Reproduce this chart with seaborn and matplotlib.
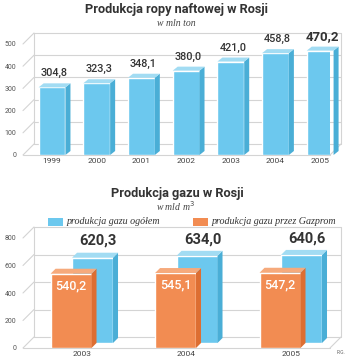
import pandas as pd
import matplotlib
matplotlib.use("Agg")
import matplotlib.pyplot as plt
import seaborn as sns
from matplotlib.patches import Polygon, Rectangle

# data
oil_years = ["1999", "2000", "2001", "2002", "2003", "2004", "2005"]
oil_values = [304.8, 323.3, 348.1, 380.0, 421.0, 458.8, 470.2]
oil_ticks = [0, 100, 200, 300, 400, 500]

gas_years = ["2003", "2004", "2005"]
gas_total = [620.3, 634.0, 640.6]
gas_gazprom = [540.2, 545.1, 547.2]
gas_ticks = [0, 200, 400, 600, 800]
gas_series = ["produkcja gazu ogółem", "produkcja gazu przez Gazprom"]

BLUE, BLUE_SIDE, BLUE_TOP = "#6cc8ee", "#4aaed6", "#a2dcf3"
ORANGE, ORANGE_SIDE, ORANGE_TOP = "#f28c52", "#dd6e32", "#f6aa7c"
WALL = "#d4d4d4"
DARK = "#333333"
SANS = ["Roboto", "DejaVu Sans"]
SERIF = ["Liberation Serif", "DejaVu Serif"]

sns.set_theme(style="white")
plt.rcParams["font.family"] = SANS

W, H = 350, 359
fig = plt.figure(figsize=(W / 100, H / 100), dpi=100)


def px_scale(ax):
    # pixels per data unit on both axes
    pos = ax.get_position()
    x0, x1 = ax.get_xlim()
    y0, y1 = ax.get_ylim()
    return pos.width * W / (x1 - x0), pos.height * H / (y1 - y0)


def draw_walls(ax, ticks, depth=11):
    sx, sy = px_scale(ax)
    dx, dy = depth / sx, depth / sy
    x0, x1 = ax.get_xlim()
    top = ax.get_ylim()[1]
    kw = dict(color=WALL, lw=0.8, clip_on=False, zorder=0.5)
    for t in ticks:
        ax.plot([x0 + dx, x1 + dx], [t + dy, t + dy], **kw)
        ax.plot([x0, x0 + dx], [t, t + dy], **kw)
    ax.plot([x0 + dx, x0 + dx], [dy, top + dy], **kw)
    ax.plot([x1 + dx, x1 + dx], [dy, top + dy], **kw)
    ax.plot([x0, x1], [0, 0], **kw)
    ax.plot([x1, x1 + dx], [0, dy], **kw)


def make_3d(ax, patch, side, topc, ddx=5, ddy=5):
    sx, sy = px_scale(ax)
    dx, dy = ddx / sx, ddy / sy
    x, y = patch.get_x(), patch.get_y()
    w, h = patch.get_width(), patch.get_height()
    z = patch.get_zorder()
    ax.add_patch(Polygon([(x + w, y), (x + w + dx, y + dy), (x + w + dx, y + h + dy), (x + w, y + h)],
                         closed=True, fc=side, ec="none", zorder=z, clip_on=False))
    ax.add_patch(Polygon([(x, y + h), (x + dx, y + h + dy), (x + w + dx, y + h + dy), (x + w, y + h)],
                         closed=True, fc=topc, ec="none", zorder=z, clip_on=False))


def style_axes(ax, ticks):
    for s in ax.spines.values():
        s.set_visible(False)
    ax.set_yticks(ticks)
    ax.set_yticklabels([str(t) for t in ticks], fontsize=5, color="#555555")
    ax.tick_params(axis="y", length=0, pad=5)
    ax.tick_params(axis="x", length=0, pad=2, labelsize=6, labelcolor="#444444")
    ax.set_xlabel("")
    ax.set_ylabel("")
    ax.grid(False)
    ax.set_facecolor("none")


# ---------------- top chart: oil ----------------
ax1 = fig.add_axes([23 / W, 1 - 155 / H, 307 / W, 111 / H])
oil_df = pd.DataFrame({"rok": oil_years, "wartosc": oil_values})
sns.barplot(data=oil_df, x="rok", y="wartosc", color=BLUE, saturation=1,
            width=0.6, errorbar=None, ax=ax1, zorder=2)
ax1.set_xlim(-0.65, 6.22)
ax1.set_ylim(0, 500)
style_axes(ax1, oil_ticks)
draw_walls(ax1, oil_ticks)
oil_bars = list(ax1.patches)[:len(oil_values)]
for p in oil_bars:
    make_3d(ax1, p, BLUE_SIDE, BLUE_TOP, 5, 4)
for i, (p, v) in enumerate(zip(oil_bars, oil_values)):
    last = i == len(oil_values) - 1
    ax1.annotate(f"{v:.1f}".replace(".", ","), (p.get_x() + p.get_width() / 2, v),
                 xytext=(1.5, 6.5 if not last else 5.5), textcoords="offset points",
                 ha="center", va="bottom", color=DARK,
                 fontsize=9.5 if last else 7.8, fontweight="bold" if last else "medium")

fig.text(176 / W, 1 - 9 / H, "Produkcja ropy naftowej w Rosji", ha="center", va="center",
         fontsize=9.2, fontweight="bold", color=DARK)
fig.text(176 / W, 1 - 24 / H, "w mln ton", ha="center", va="center",
         fontsize=7, style="italic", color="#444444", family=SERIF)

# ---------------- bottom chart: gas ----------------
ax2 = fig.add_axes([23 / W, 1 - 348 / H, 307 / W, 110 / H])
gas_df = pd.DataFrame({"rok": gas_years * 2,
                       "seria": [gas_series[0]] * 3 + [gas_series[1]] * 3,
                       "wartosc": gas_total + gas_gazprom})
sns.barplot(data=gas_df[gas_df["seria"] == gas_series[0]], x="rok", y="wartosc",
            color=BLUE, saturation=1, width=0.392, errorbar=None, ax=ax2, zorder=2)
n_blue = len(ax2.patches)
sns.barplot(data=gas_df[gas_df["seria"] == gas_series[1]], x="rok", y="wartosc",
            color=ORANGE, saturation=1, width=0.392, errorbar=None, ax=ax2, zorder=3)
ax2.set_xlim(-0.565, 2.373)
ax2.set_ylim(0, 800)
style_axes(ax2, gas_ticks)
sx2, sy2 = px_scale(ax2)
blue_bars = list(ax2.patches)[:n_blue]
orange_bars = list(ax2.patches)[n_blue:n_blue + len(gas_gazprom)]
for p in blue_bars:
    p.set_x(p.get_x() + 10.5 / sx2)
    p.set_y(p.get_y() + 5 / sy2)
for p in orange_bars:
    p.set_x(p.get_x() - 11 / sx2)
draw_walls(ax2, gas_ticks)
for p in blue_bars:
    make_3d(ax2, p, BLUE_SIDE, BLUE_TOP, 5, 5)
for p in orange_bars:
    make_3d(ax2, p, ORANGE_SIDE, ORANGE_TOP, 5, 5)
for p, v in zip(blue_bars, gas_total):
    ax2.annotate(f"{v:.1f}".replace(".", ","), (p.get_x() + p.get_width() / 2, p.get_y() + v),
                 xytext=(4, 7), textcoords="offset points", ha="center", va="bottom",
                 color=DARK, fontsize=10.5, fontweight="bold")
for p, v in zip(orange_bars, gas_gazprom):
    ax2.annotate(f"{v:.1f}".replace(".", ","), (p.get_x() + p.get_width() / 2, v),
                 xytext=(0, -4), textcoords="offset points", ha="center", va="top",
                 color="white", fontsize=9, fontweight="medium")

fig.text(177 / W, 1 - 193 / H, "Produkcja gazu w Rosji", ha="center", va="center",
         fontsize=9.2, fontweight="bold", color=DARK)
fig.text(175 / W, 1 - 206 / H, "w mld m$^3$", ha="center", va="center",
         fontsize=7, style="italic", color="#444444", family=SERIF)

# legend
for (x0, col, label) in [(48, BLUE, gas_series[0]), (193, ORANGE, gas_series[1])]:
    fig.patches.append(Rectangle((x0 / W, 1 - 226 / H), 15 / W, 8 / H, fc=col, ec="none",
                                 transform=fig.transFigure, figure=fig))
    fig.text((x0 + 19) / W, 1 - 222 / H, label, ha="left", va="center",
             fontsize=7.2, style="italic", color="#333333", family=SERIF)

fig.text(341 / W, 1 - 353 / H, "R.G.", ha="center", va="center", fontsize=3.5, color="#666666")

fig.savefig("out.png", dpi=100, facecolor="white")
